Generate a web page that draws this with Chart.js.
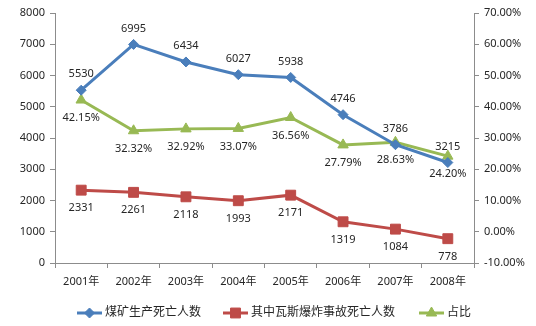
<!DOCTYPE html>
<html>
<head>
<meta charset="utf-8">
<script src="https://cdn.jsdelivr.net/npm/chart.js@4"></script>
<style>
  html, body { margin: 0; padding: 0; background: #fff; }
  #wrap { width: 536px; height: 326px; }
</style>
</head>
<body>
<div id="wrap"><canvas id="deathChart" width="536" height="326"></canvas></div>
<script>
// categories and series
const years = ['2001年', '2002年', '2003年', '2004年', '2005年', '2006年', '2007年', '2008年'];
const coalDeaths = [5530, 6995, 6434, 6027, 5938, 4746, 3786, 3215];
const gasDeaths = [2331, 2261, 2118, 1993, 2171, 1319, 1084, 778];
const gasShare = [42.15, 32.32, 32.92, 33.07, 36.56, 27.79, 28.63, 24.20];
const seriesNames = ['煤矿生产死亡人数', '其中瓦斯爆炸事故死亡人数', '占比'];

const FONT = '"Noto Sans", "Noto Sans CJK SC", sans-serif';
const TEXT = '#262626';
const AXIS = '#8c8c8c';

// value labels next to each point
const valueLabels = {
  id: 'valueLabels',
  afterDatasetsDraw(chart) {
    const ctx = chart.ctx;
    ctx.save();
    ctx.font = '11px ' + FONT;
    ctx.fillStyle = TEXT;
    ctx.textAlign = 'center';
    ctx.textBaseline = 'middle';
    chart.data.datasets.forEach((ds, i) => {
      const meta = chart.getDatasetMeta(i);
      meta.data.forEach((pt, j) => {
        const v = ds.data[j];
        const txt = ds.yAxisID === 'y1' ? v.toFixed(2) + '%' : String(v);
        ctx.fillText(txt, pt.x, pt.y + ds.labelOffset);
      });
    });
    ctx.restore();
  }
};

// legend drawn as line + marker + text
const lineLegend = {
  id: 'lineLegend',
  afterDraw(chart) {
    const ctx = chart.ctx;
    const y = 313;
    const starts = [77, 223, 419];
    ctx.save();
    ctx.font = '12px ' + FONT;
    ctx.textBaseline = 'middle';
    chart.data.datasets.forEach((ds, i) => {
      const x0 = starts[i];
      ctx.strokeStyle = ds.borderColor;
      ctx.fillStyle = ds.backgroundColor;
      ctx.lineWidth = 3;
      ctx.beginPath();
      ctx.moveTo(x0, y);
      ctx.lineTo(x0 + 25, y);
      ctx.stroke();
      ctx.lineWidth = 1;
      Chart.helpers.drawPoint(ctx, {
        pointStyle: ds.pointStyle,
        radius: ds.pointRadius,
        borderWidth: 1
      }, x0 + 12.5, y);
      ctx.fillStyle = TEXT;
      ctx.fillText(ds.label, x0 + 28, y);
    });
    ctx.restore();
  }
};

const ctx = document.getElementById('deathChart').getContext('2d');
new Chart(ctx, {
  type: 'line',
  data: {
    labels: years,
    datasets: [
      {
        label: seriesNames[0],
        data: coalDeaths,
        yAxisID: 'y',
        borderColor: '#4a7ebb',
        backgroundColor: '#4a7ebb',
        pointStyle: 'rectRot',
        pointRadius: 5,
        labelOffset: -16
      },
      {
        label: seriesNames[1],
        data: gasDeaths,
        yAxisID: 'y',
        borderColor: '#be4b48',
        backgroundColor: '#be4b48',
        pointStyle: 'rect',
        pointRadius: 7,
        labelOffset: 18
      },
      {
        label: seriesNames[2],
        data: gasShare,
        yAxisID: 'y1',
        borderColor: '#98b954',
        backgroundColor: '#98b954',
        pointStyle: 'triangle',
        pointRadius: 6,
        labelOffset: 18
      }
    ]
  },
  options: {
    responsive: false,
    animation: false,
    clip: false,
    elements: {
      line: { borderWidth: 3, tension: 0 },
      point: { borderWidth: 1, hoverRadius: 6 }
    },
    layout: { padding: { top: 13, bottom: 33, left: 0, right: 0 } },
    scales: {
      x: {
        offset: true,
        grid: { drawOnChartArea: false, drawTicks: true, tickLength: 5, color: AXIS, offset: true },
        border: { color: AXIS },
        ticks: { color: TEXT, font: { family: FONT, size: 11 }, padding: 7, maxRotation: 0 },
        afterFit(scale) { scale.height = 30; }
      },
      y: {
        position: 'left',
        min: 0,
        max: 8000,
        grid: { drawOnChartArea: false, drawTicks: true, tickLength: 5, color: AXIS },
        border: { color: AXIS },
        ticks: {
          stepSize: 1000,
          color: TEXT,
          font: { family: FONT, size: 11 },
          padding: 5,
          callback: v => String(v)
        },
        afterFit(scale) { scale.width = 55; }
      },
      y1: {
        position: 'right',
        min: -10,
        max: 70,
        grid: { drawOnChartArea: false, drawTicks: true, tickLength: 5, color: AXIS },
        border: { color: AXIS },
        ticks: {
          stepSize: 10,
          color: TEXT,
          font: { family: FONT, size: 11 },
          padding: 5,
          callback: v => v.toFixed(2) + '%'
        },
        afterFit(scale) { scale.width = 62; }
      }
    },
    plugins: {
      legend: { display: false },
      tooltip: { enabled: false }
    }
  },
  plugins: [valueLabels, lineLegend]
});
</script>
</body>
</html>
